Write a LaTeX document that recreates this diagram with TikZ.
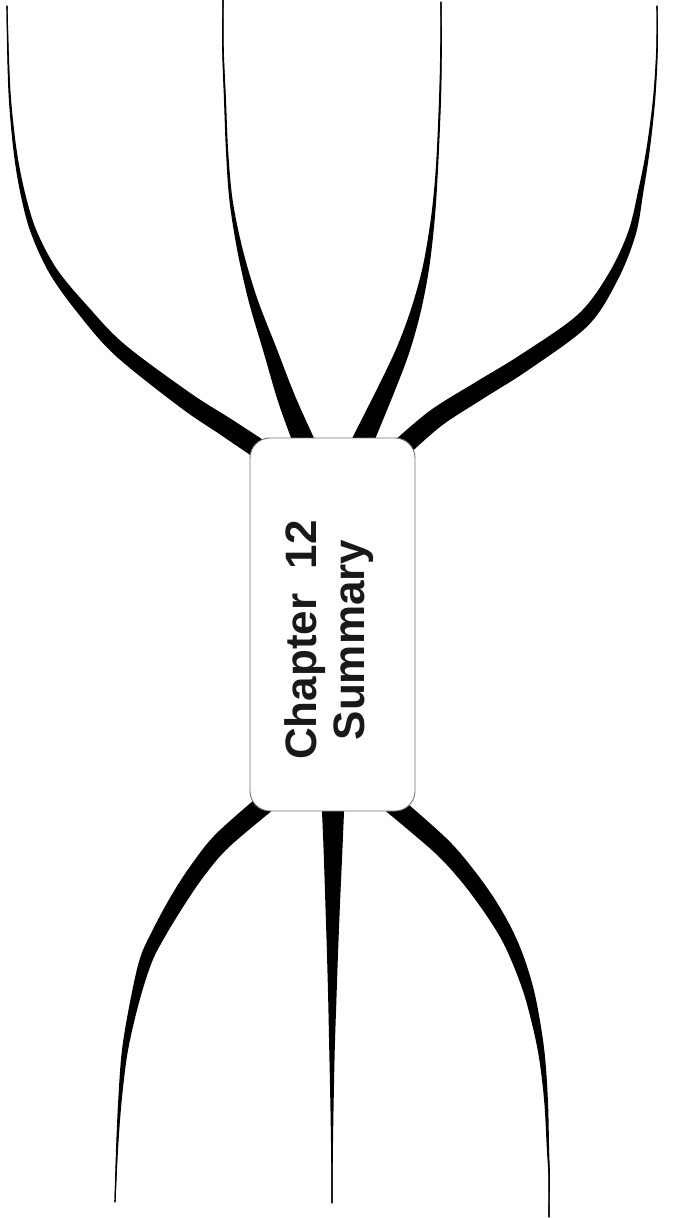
\documentclass[tikz,border=0pt]{standalone}
\usepackage{fontspec}
\setmainfont{Liberation Sans}
\usetikzlibrary{calc}
\pgfdeclarelayer{bg}
\pgfsetlayers{bg,main}
\tikzset{
  hub/.style={draw=black!55, fill=white, rounded corners=20pt, line width=0.9pt,
    minimum width=165pt, minimum height=373pt, inner sep=0pt},
  title/.style={font=\bfseries\fontsize{44}{48}\selectfont, align=center, rotate=90, text=black!90, inner sep=0pt},
  stem/.style={draw=black, line width=1.1pt, line cap=round},
  blade/.style={fill=black}
}
% #1 = branch name, #2 = list of x/y/width along the centre line (from the box outwards)
\newcommand\mkbranch[2]{%
  \gdef\Llist{}\gdef\Rlist{}\gdef\Clist{}%
  \foreach[count=\i] \px/\py/\pw in {#2}{%
    \coordinate (#1-\i) at (\px,\py);
    \expandafter\xdef\csname bw#1-\i\endcsname{\pw}%
    \xdef\bn{\i}%
  }%
  \foreach \i in {1,...,\bn}{%
    \pgfmathtruncatemacro\bip{max(1,\i-1)}%
    \pgfmathtruncatemacro\bnx{min(\bn,\i+1)}%
    \pgfmathsetmacro\bhw{\csname bw#1-\i\endcsname/2}%
    \coordinate (#1-tl) at ($(#1-\bip)!\bhw pt!90:(#1-\bnx)$);
    \coordinate (#1-L\i) at ($(#1-\i)+(#1-tl)-(#1-\bip)$);
    \coordinate (#1-tr) at ($(#1-\bip)!\bhw pt!-90:(#1-\bnx)$);
    \coordinate (#1-R\i) at ($(#1-\i)+(#1-tr)-(#1-\bip)$);
    \xdef\Llist{\Llist (#1-L\i)}%
    \xdef\Rlist{(#1-R\i) \Rlist}%
    \xdef\Clist{\Clist (#1-\i)}%
  }%
  \edef\bcmd{\noexpand\path[blade] plot[smooth,tension=0.55] coordinates {\Llist} -- plot[smooth,tension=0.55] coordinates {\Rlist} -- cycle;
     \noexpand\path[stem] plot[smooth,tension=0.55] coordinates {\Clist};}%
  \bcmd
}
\begin{document}
\begin{tikzpicture}[x=1pt,y=-1pt]
\useasboundingbox (0,0) rectangle (676,1218);
\node[hub] (box) at (332.5,624.5) {};
\node[title] (lbl) at (329,640) {Chapter\ \ 12\\Summary};
\begin{pgfonlayer}{bg}
\fill[white] (0,0) rectangle (676,1218);
\mkbranch{b1}{268/455/20, 226/427/19, 185/400/17.5, 120/350/14.5, 83/310/12, 53/271/8.5, 33/230/6, 22/190/4.5, 15/150/3.2, 10/100/2.2, 8/53/1.6, 7/6/1.1}
\mkbranch{b2}{307/449/22, 287/400/18, 270/350/13.5, 253/300/9, 240/250/5.5, 231/200/3.2, 227/150/2.2, 225/100/2, 223/50/1.6, 223/0/1.1}
\mkbranch{b3}{359/449/22, 386/390/17, 403/350/13.5, 416/310/10, 426/267/6.5, 433/217/3.8, 437/167/2.2, 440/100/2, 441/50/1.6, 441/2/1.1}
\mkbranch{b4}{399/450/20, 436/418/19, 480/390/18, 525/362/17, 583/320/15, 613/277/11, 632/233/8, 641/190/5.2, 648/150/3.5, 654/100/2.3, 657/50/1.6, 657/6/1.1}
\mkbranch{b5}{273/797/20, 223/840/18.5, 198/870/17, 178/900/16, 159/933/14, 146/960/12.5, 135/1000/9, 125/1050/6, 120/1100/3.5, 117/1150/2, 115/1202/1.1}
\mkbranch{b6}{333/800/23, 333/850/18.8, 332.7/900/14.9, 332.5/950/11.3, 332.3/1000/8.2, 332/1050/5.5, 332/1100/3.4, 332/1157/1.6, 332/1203/1.1}
\mkbranch{b7}{388/800/20, 440/845/18.5, 467/875/17, 489/905/16, 507/935/14, 520/965/12.5, 531/1000/10, 541/1050/6.5, 546/1100/3.8, 548/1150/2.2, 549/1170/1.6, 549/1217/1.1}
\end{pgfonlayer}
\end{tikzpicture}
\end{document}
